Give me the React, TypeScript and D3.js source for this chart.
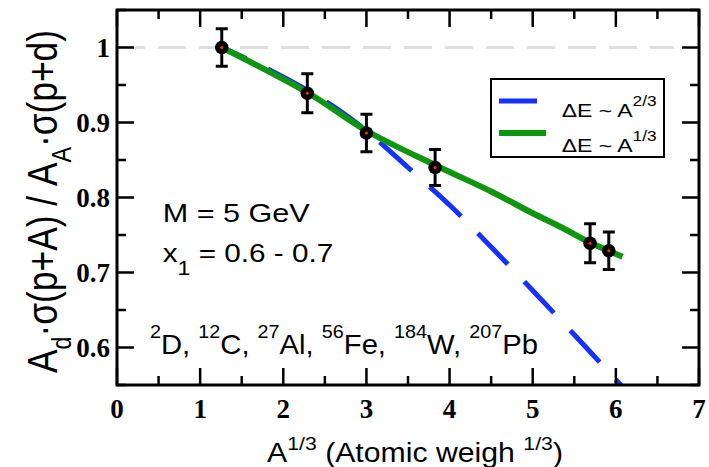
import React from "react";
import * as d3 from "d3";

// ---- data ----
const nucleusA13: number[] = [1.26, 2.289, 3.0, 3.826, 5.69, 5.915];
const ratioValues: number[] = [1.0, 0.939, 0.886, 0.84, 0.739, 0.729];
const ratioErrors: number[] = [0.025, 0.026, 0.025, 0.024, 0.026, 0.025];

const blueX: number[] = [1.26, 1.75, 2.29, 2.65, 3.0, 3.5, 4.0, 4.5, 5.0, 5.5, 6.0, 6.15];
const blueY: number[] = [1.0, 0.975, 0.943, 0.918, 0.889, 0.84, 0.79, 0.734, 0.676, 0.617, 0.557, 0.539];

const greenX: number[] = [1.26, 2.29, 3.0, 3.83, 4.5, 5.0, 5.35, 5.69, 6.08];
const greenY: number[] = [1.0, 0.94, 0.889, 0.843, 0.808, 0.779, 0.76, 0.74, 0.721];

const xTicks: number[] = [0, 1, 2, 3, 4, 5, 6, 7];
const xMinor: number[] = [0.5, 1.5, 2.5, 3.5, 4.5, 5.5, 6.5];
const yTicks: number[] = [0.6, 0.7, 0.8, 0.9, 1.0];
const yMinor: number[] = [0.55, 0.65, 0.75, 0.85, 0.95, 1.05];
const yTickLabels: string[] = ["0.6", "0.7", "0.8", "0.9", "1"];

const W = 709;
const H = 467;
const PL = 117, PR = 699, PT = 10, PB = 385;

const BLUE = "#1432ff";
const GREEN = "#0e960e";
const SANS = "'Liberation Sans', Arial, sans-serif";
const SERIF = "'Liberation Serif', 'Times New Roman', serif";

export default function App() {
  const x = d3.scaleLinear().domain([0, 7]).range([PL, PR]);
  const y = d3.scaleLinear().domain([0.55, 1.05]).range([PB, PT]);

  const line = d3
    .line<[number, number]>()
    .x((d) => x(d[0]))
    .y((d) => y(d[1]))
    .curve(d3.curveCatmullRom.alpha(0.5));

  const bluePath = line(blueX.map((v, i) => [v, blueY[i]] as [number, number])) || "";
  const greenPath = line(greenX.map((v, i) => [v, greenY[i]] as [number, number])) || "";

  const MAJ = 17, MIN = 9;

  return (
    <svg
      width={W}
      height={H}
      style={{ position: "fixed", left: 0, top: 0, background: "#fff" }}
    >
      <defs>
        <clipPath id="plotclip">
          <rect x={PL} y={PT} width={PR - PL} height={PB - PT} />
        </clipPath>
      </defs>
      <rect x={0} y={0} width={W} height={H} fill="#fff" />

      {/* reference line at 1 */}
      <line
        x1={x(0)}
        x2={x(6.7)}
        y1={y(1)}
        y2={y(1)}
        stroke="#dedede"
        strokeWidth={3}
        strokeDasharray="28 13"
      />

      <g clipPath="url(#plotclip)">
        <path
          d={bluePath}
          fill="none"
          stroke={BLUE}
          strokeWidth={5}
          strokeDasharray="43 24"
          strokeDashoffset={16}
        />
        <path d={greenPath} fill="none" stroke={GREEN} strokeWidth={6} />
      </g>

      {/* data points */}
      {nucleusA13.map((v, i) => {
        const cx = x(v);
        const cy = y(ratioValues[i]);
        const y1 = y(ratioValues[i] + ratioErrors[i]);
        const y2 = y(ratioValues[i] - ratioErrors[i]);
        return (
          <g key={i}>
            <line x1={cx} x2={cx} y1={y1} y2={y2} stroke="#000" strokeWidth={3} />
            <line x1={cx - 6} x2={cx + 6} y1={y1} y2={y1} stroke="#000" strokeWidth={3} />
            <line x1={cx - 6} x2={cx + 6} y1={y2} y2={y2} stroke="#000" strokeWidth={3} />
            <circle cx={cx} cy={cy} r={6.8} fill="#000" />
            <circle cx={cx} cy={cy} r={1.6} fill="#ff2a00" />
          </g>
        );
      })}

      {/* frame */}
      <rect
        x={PL}
        y={PT}
        width={PR - PL}
        height={PB - PT}
        fill="none"
        stroke="#000"
        strokeWidth={3}
      />

      {/* ticks */}
      {xTicks.map((t) => (
        <g key={"xt" + t}>
          <line x1={x(t)} x2={x(t)} y1={PB} y2={PB - MAJ} stroke="#000" strokeWidth={2.5} />
          <line x1={x(t)} x2={x(t)} y1={PT} y2={PT + MAJ} stroke="#000" strokeWidth={2.5} />
          <text
            x={x(t)}
            y={418}
            textAnchor="middle"
            fontFamily={SERIF}
            fontWeight="bold"
            fontSize={27}
          >
            {t}
          </text>
        </g>
      ))}
      {xMinor.map((t) => (
        <g key={"xm" + t}>
          <line x1={x(t)} x2={x(t)} y1={PB} y2={PB - MIN} stroke="#000" strokeWidth={2.5} />
          <line x1={x(t)} x2={x(t)} y1={PT} y2={PT + MIN} stroke="#000" strokeWidth={2.5} />
        </g>
      ))}
      {yTicks.map((t, i) => (
        <g key={"yt" + t}>
          <line x1={PL} x2={PL + MAJ} y1={y(t)} y2={y(t)} stroke="#000" strokeWidth={2.5} />
          <line x1={PR} x2={PR - MAJ} y1={y(t)} y2={y(t)} stroke="#000" strokeWidth={2.5} />
          <text
            x={110}
            y={y(t) + 9.5}
            textAnchor="end"
            fontFamily={SERIF}
            fontWeight="bold"
            fontSize={27}
          >
            {yTickLabels[i]}
          </text>
        </g>
      ))}
      {yMinor.map((t) => (
        <g key={"ym" + t}>
          <line x1={PL} x2={PL + MIN} y1={y(t)} y2={y(t)} stroke="#000" strokeWidth={2.5} />
          <line x1={PR} x2={PR - MIN} y1={y(t)} y2={y(t)} stroke="#000" strokeWidth={2.5} />
        </g>
      ))}

      {/* legend */}
      <rect x={491} y={79} width={173} height={78} fill="#fff" stroke="#000" strokeWidth={2} />
      <line x1={499} x2={546} y1={101} y2={101} stroke={BLUE} strokeWidth={5} strokeDasharray="38 30" />
      <line x1={499} x2={546} y1={133} y2={133} stroke={GREEN} strokeWidth={6} />
      <text x={561.7} y={116.5} fontFamily={SANS} fontSize={18.6} textLength={95} lengthAdjust="spacingAndGlyphs">
        ΔE ~ A<tspan fontSize={14} dy={-11}>2/3</tspan>
      </text>
      <text x={561.7} y={151.7} fontFamily={SANS} fontSize={18.6} textLength={95} lengthAdjust="spacingAndGlyphs">
        ΔE ~ A<tspan fontSize={14} dy={-11}>1/3</tspan>
      </text>

      {/* annotations */}
      <text x={162.7} y={221.7} fontFamily={SANS} fontSize={25.6} textLength={147} lengthAdjust="spacingAndGlyphs">
        M = 5 GeV
      </text>
      <text x={162.7} y={261.7} fontFamily={SANS} fontSize={25.6} textLength={170.6} lengthAdjust="spacingAndGlyphs">
        x<tspan fontSize={20} dy={13}>1</tspan>
        <tspan dy={-13}> = 0.6 - 0.7</tspan>
      </text>
      <text x={150} y={354} fontFamily={SANS} fontSize={27.5} textLength={388} lengthAdjust="spacingAndGlyphs">
        <tspan fontSize={18.6} dy={-16}>2</tspan>
        <tspan dy={16}>D, </tspan>
        <tspan fontSize={18.6} dy={-16}>12</tspan>
        <tspan dy={16}>C, </tspan>
        <tspan fontSize={18.6} dy={-16}>27</tspan>
        <tspan dy={16}>Al, </tspan>
        <tspan fontSize={18.6} dy={-16}>56</tspan>
        <tspan dy={16}>Fe, </tspan>
        <tspan fontSize={18.6} dy={-16}>184</tspan>
        <tspan dy={16}>W, </tspan>
        <tspan fontSize={18.6} dy={-16}>207</tspan>
        <tspan dy={16}>Pb</tspan>
      </text>

      {/* x title */}
      <text x={267} y={462} fontFamily={SANS} fontSize={27} textLength={296} lengthAdjust="spacingAndGlyphs">
        A<tspan fontSize={19} dy={-12}>1/3</tspan>
        <tspan dy={12}> (Atomic weigh </tspan>
        <tspan fontSize={19} dy={-12}>1/3</tspan>
        <tspan dy={12}>)</tspan>
      </text>

      {/* y title */}
      <g transform="translate(56.7,201.5) scale(1.2,1) rotate(-90)">
        <text
          x={0}
          y={0}
          textAnchor="middle"
          fontFamily={SANS}
          fontSize={35}
          textLength={343}
          lengthAdjust="spacingAndGlyphs"
        >
          A<tspan fontSize={23} dy={12}>d</tspan>
          <tspan dy={-12}>·σ(p+A) / A</tspan>
          <tspan fontSize={23} dy={12}>A</tspan>
          <tspan dy={-12}>·σ(p+d)</tspan>
        </text>
      </g>
    </svg>
  );
}
